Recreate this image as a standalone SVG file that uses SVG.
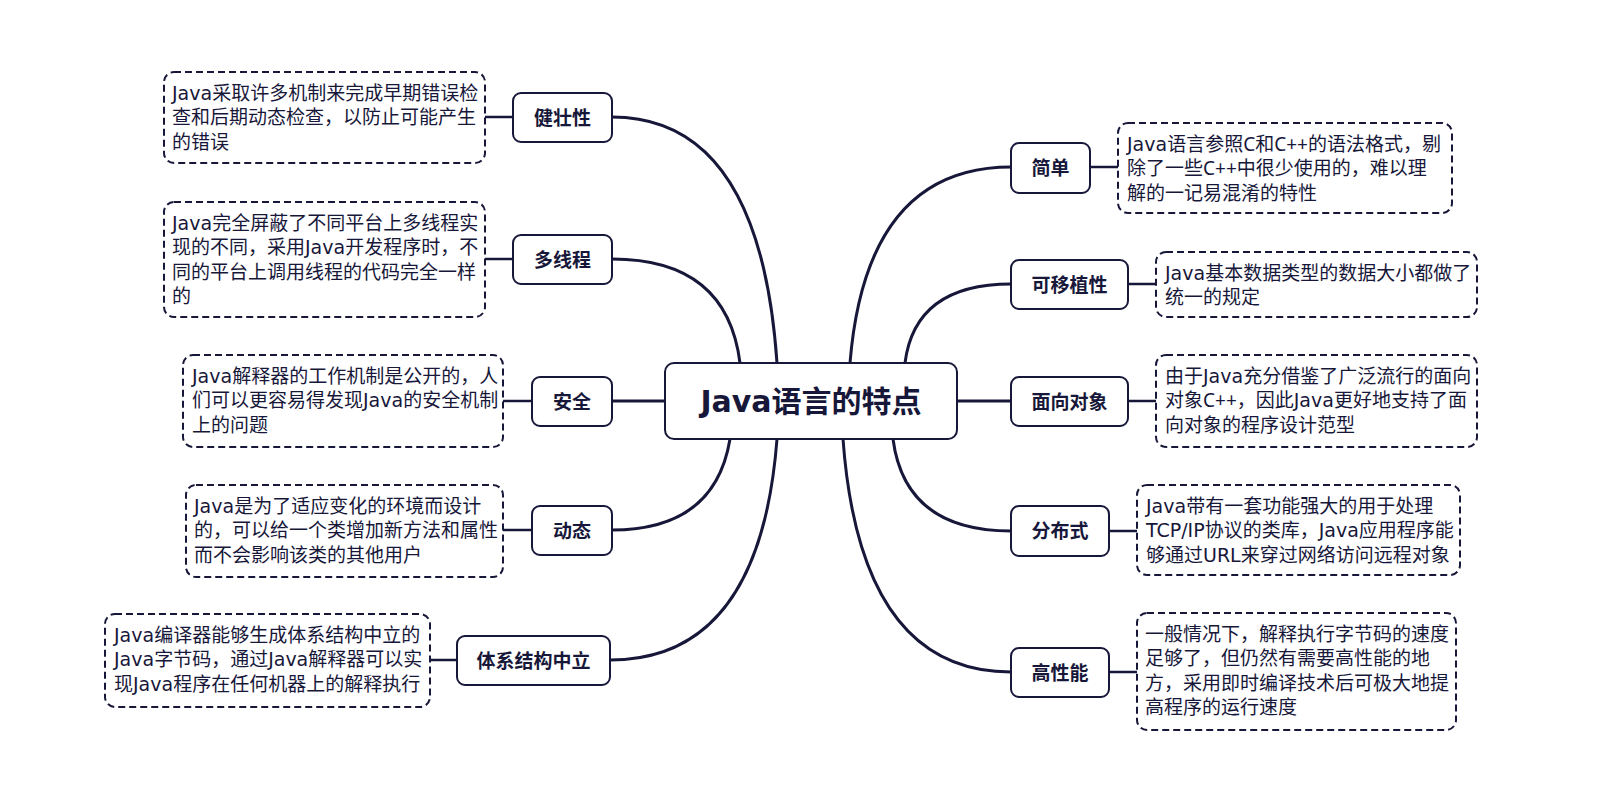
<svg xmlns="http://www.w3.org/2000/svg" width="1616" height="788" viewBox="0 0 1616 788">
<style>
.bg{fill:#ffffff}
.node rect{fill:#ffffff;stroke:#17173a;stroke-width:2}
.node text{font-family:"DejaVu Sans","Noto Sans CJK SC",sans-serif;font-size:19px;font-weight:bold;fill:#17173a;text-anchor:middle}
.root text{font-size:30px}
.note rect{fill:#ffffff;stroke:#17173a;stroke-width:2;stroke-dasharray:7 4}
.note text{font-family:"DejaVu Sans","Noto Sans CJK SC",sans-serif;font-size:19px;fill:#17173a}
.note .cpp{font-family:"Noto Sans","Noto Sans CJK SC",sans-serif}
.conn path{fill:none;stroke:#17173a;stroke-width:3}
.conn line{stroke:#17173a;stroke-width:2.5}
</style>
<rect class="bg" x="0" y="0" width="1616" height="788"/>
<g id="connectors" class="conn">
<path d="M612 117 Q760 117 777 363"/>
<path d="M612 259 Q727 259 740 363"/>
<path d="M612 401 L665 401"/>
<path d="M612 530 Q715 530 730 439"/>
<path d="M610 660 Q760 660 777 439"/>
<path d="M1011 167 Q866 167 850 363"/>
<path d="M1011 284 Q915 284 905 363"/>
<path d="M957 401 L1011 401"/>
<path d="M1011 531 Q905 531 893 439"/>
<path d="M1011 672 Q860 672 843 439"/>
<line x1="485" y1="117" x2="513" y2="117"/>
<line x1="485" y1="259" x2="513" y2="259"/>
<line x1="503" y1="401" x2="532" y2="401"/>
<line x1="503" y1="530" x2="532" y2="530"/>
<line x1="430" y1="660" x2="457" y2="660"/>
<line x1="1090" y1="167" x2="1118" y2="167"/>
<line x1="1128" y1="284" x2="1156" y2="284"/>
<line x1="1128" y1="401" x2="1156" y2="401"/>
<line x1="1109" y1="531" x2="1137" y2="531"/>
<line x1="1109" y1="672" x2="1137" y2="672"/>
</g>
<g id="root" class="node root">
<rect x="665" y="363" width="292" height="76" rx="9"/>
<text x="811" y="412">Java语言的特点</text>
</g>
<g id="n-jianzhuang" class="node"><rect x="513" y="93" width="99" height="49" rx="8"/><text x="562.5" y="125">健壮性</text></g>
<g id="n-duoxiancheng" class="node"><rect x="513" y="235" width="99" height="49" rx="8"/><text x="562.5" y="267">多线程</text></g>
<g id="n-anquan" class="node"><rect x="532" y="377" width="80" height="49" rx="8"/><text x="572" y="409">安全</text></g>
<g id="n-dongtai" class="node"><rect x="532" y="506" width="80" height="49" rx="8"/><text x="572" y="538">动态</text></g>
<g id="n-tixi" class="node"><rect x="457" y="636" width="153" height="49" rx="8"/><text x="533.5" y="667.5">体系结构中立</text></g>
<g id="n-jiandan" class="node"><rect x="1011" y="143" width="79" height="50" rx="8"/><text x="1050.5" y="175">简单</text></g>
<g id="n-keyizhi" class="node"><rect x="1011" y="260" width="117" height="49" rx="8"/><text x="1069.5" y="292">可移植性</text></g>
<g id="n-mianxiang" class="node"><rect x="1011" y="377" width="117" height="49" rx="8"/><text x="1069.5" y="409">面向对象</text></g>
<g id="n-fenbu" class="node"><rect x="1011" y="506" width="98" height="50" rx="8"/><text x="1060" y="538">分布式</text></g>
<g id="n-gaoxingneng" class="node"><rect x="1011" y="648" width="98" height="49" rx="8"/><text x="1060" y="680">高性能</text></g>
<g id="d-jianzhuang" class="note"><rect x="164" y="72" width="321" height="91" rx="10"/><text><tspan x="172" y="99.5">Java采取许多机制来完成早期错误检</tspan><tspan x="172" y="124">查和后期动态检查，以防止可能产生</tspan><tspan x="172" y="148.5">的错误</tspan></text></g>
<g id="d-duoxiancheng" class="note"><rect x="164" y="202" width="321" height="115" rx="10"/><text><tspan x="172" y="229.5">Java完全屏蔽了不同平台上多线程实</tspan><tspan x="172" y="254">现的不同，采用Java开发程序时，不</tspan><tspan x="172" y="278.5">同的平台上调用线程的代码完全一样</tspan><tspan x="172" y="303">的</tspan></text></g>
<g id="d-anquan" class="note"><rect x="183" y="355" width="320" height="92" rx="10"/><text><tspan x="192" y="382.5">Java解释器的工作机制是公开的，人</tspan><tspan x="192" y="407">们可以更容易得发现Java的安全机制</tspan><tspan x="192" y="431.5">上的问题</tspan></text></g>
<g id="d-dongtai" class="note"><rect x="186" y="485" width="317" height="92" rx="10"/><text><tspan x="194" y="512.5">Java是为了适应变化的环境而设计</tspan><tspan x="194" y="537">的，可以给一个类增加新方法和属性</tspan><tspan x="194" y="561.5">而不会影响该类的其他用户</tspan></text></g>
<g id="d-tixi" class="note"><rect x="105" y="614" width="325" height="93" rx="10"/><text><tspan x="114" y="641.5">Java编译器能够生成体系结构中立的</tspan><tspan x="114" y="666">Java字节码，通过Java解释器可以实</tspan><tspan x="114" y="690.5">现Java程序在任何机器上的解释执行</tspan></text></g>
<g id="d-jiandan" class="note"><rect x="1118" y="123" width="334" height="90" rx="10"/><text><tspan x="1127" y="150.5">Java语言参照<tspan class="cpp">C</tspan>和<tspan class="cpp">C++</tspan>的语法格式，剔</tspan><tspan x="1127" y="175">除了一些<tspan class="cpp">C++</tspan>中很少使用的，难以理</tspan><tspan x="1127" y="199.5">解的一记易混淆的特性</tspan></text></g>
<g id="d-keyizhi" class="note"><rect x="1156" y="252" width="321" height="65" rx="10"/><text><tspan x="1165" y="279.5">Java基本数据类型的数据大小都做了</tspan><tspan x="1165" y="304">统一的规定</tspan></text></g>
<g id="d-mianxiang" class="note"><rect x="1156" y="355" width="321" height="92" rx="10"/><text><tspan x="1165" y="382.5">由于Java充分借鉴了广泛流行的面向</tspan><tspan x="1165" y="407">对象<tspan class="cpp">C++</tspan>，因此Java更好地支持了面</tspan><tspan x="1165" y="431.5">向对象的程序设计范型</tspan></text></g>
<g id="d-fenbu" class="note"><rect x="1137" y="485" width="323" height="90" rx="10"/><text><tspan x="1146" y="512.5">Java带有一套功能强大的用于处理</tspan><tspan x="1146" y="537">TCP/IP协议的类库，Java应用程序能</tspan><tspan x="1146" y="561.5">够通过URL来穿过网络访问远程对象</tspan></text></g>
<g id="d-gaoxingneng" class="note"><rect x="1137" y="613" width="319" height="117" rx="10"/><text><tspan x="1145" y="640.5">一般情况下，解释执行字节码的速度</tspan><tspan x="1145" y="665">足够了，但仍然有需要高性能的地</tspan><tspan x="1145" y="689.5">方，采用即时编译技术后可极大地提</tspan><tspan x="1145" y="714">高程序的运行速度</tspan></text></g>
</svg>
